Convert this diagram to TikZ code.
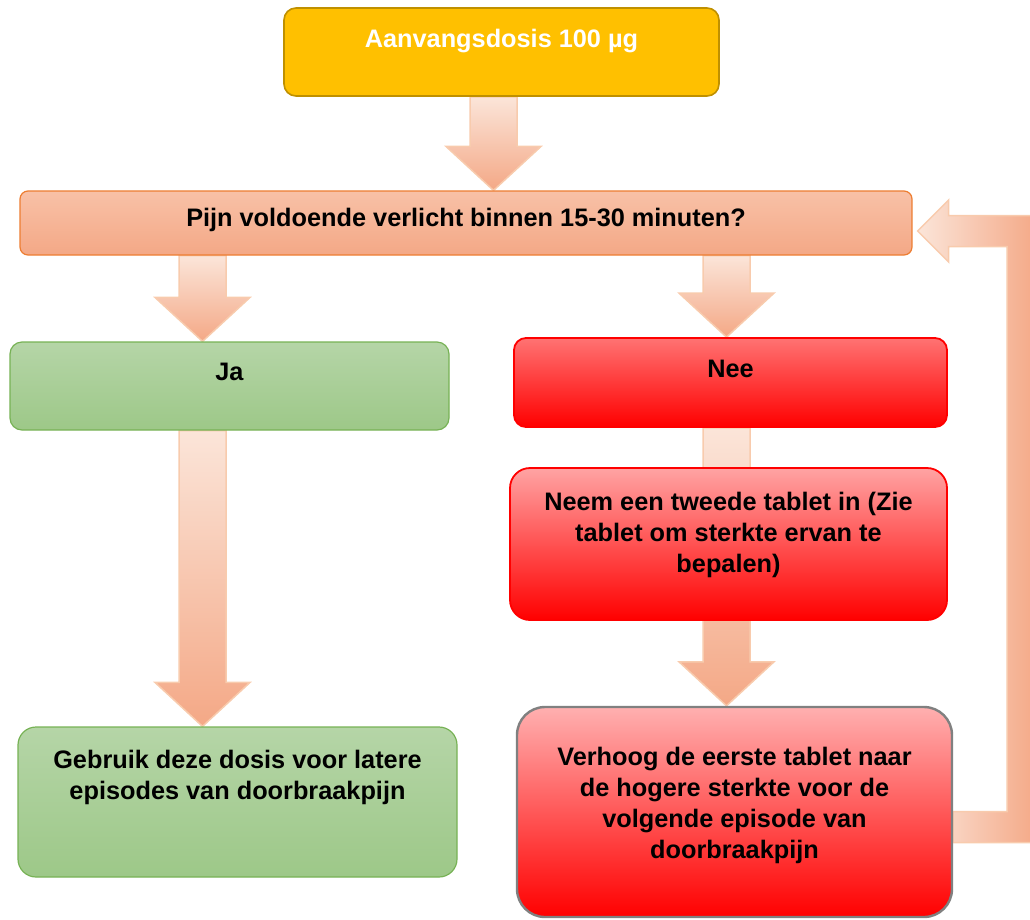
\documentclass[tikz,border=0pt]{standalone}
\usepackage{fontspec}
\setmainfont{Liberation Sans}
\usetikzlibrary{calc,backgrounds}

\definecolor{gold}{HTML}{FFC000}
\definecolor{golddark}{HTML}{BF9000}
\definecolor{salmontop}{HTML}{F8C1A7}
\definecolor{salmonbot}{HTML}{F4A886}
\definecolor{salmonline}{HTML}{ED7D31}
\definecolor{greentop}{HTML}{B5D5A7}
\definecolor{greenbot}{HTML}{9DC888}
\definecolor{greenline}{HTML}{77B255}
\definecolor{redbot}{HTML}{FF0000}
\definecolor{arrowlight}{HTML}{FBE5D9}
\definecolor{arrowdark}{HTML}{F4A886}
\definecolor{arrowline}{HTML}{F8CBAD}

\tikzstyle{box} = [draw, rectangle, line width=1.2pt, rounded corners=12pt]
\tikzstyle{startbox} = [box, fill=gold, draw=golddark, line width=1.6pt,
    minimum width=435pt, minimum height=88pt]
\tikzstyle{askbox} = [box, top color=salmontop, bottom color=salmonbot,
    draw=salmonline, rounded corners=8pt, minimum width=892pt, minimum height=64pt]
\tikzstyle{yesbox} = [box, top color=greentop, bottom color=greenbot,
    draw=greenline, minimum width=439pt]
\tikzstyle{nobox} = [box, bottom color=redbot, draw=redbot, line width=1.8pt]
\tikzstyle{txt} = [align=center, inner sep=0pt,
    font=\bfseries\fontsize{25.3}{31}\selectfont]
\tikzstyle{blockarrow} = [draw=arrowline, line width=1.5pt,
    top color=arrowlight, bottom color=arrowdark]

% block arrow pointing down: #1 top of shaft, #2 tip
\newcommand{\downblock}[2]{%
  \path[blockarrow] ($(#1)+(-23.5,0)$) -- ($(#2)+(-23.5,-44)$)
    -- ($(#2)+(-47.5,-44)$) -- (#2) -- ($(#2)+(47.5,-44)$)
    -- ($(#2)+(23.5,-44)$) -- ($(#1)+(23.5,0)$) -- cycle;}

\begin{document}
\begin{tikzpicture}[x=1pt, y=-1pt]
        \useasboundingbox (0,0) rectangle (1030,919);
        % We start by placing the blocks
        \node [startbox] (start) at (501.5,52) {};
        \node [askbox] (ask) at (466,223) {};
        \node [yesbox, minimum height=88pt] (ja) at (229.5,386) {};
        \node [nobox, top color=red!55!white, minimum width=433pt,
            minimum height=89pt] (nee) at (730.5,382.5) {};
        \node [nobox, top color=red!36!white, rounded corners=20pt,
            minimum width=437pt, minimum height=152pt] (neem) at (728.5,544) {};
        \node [yesbox, rounded corners=18pt, minimum height=150pt]
            (gebruik) at (237.5,802) {};
        \node [nobox, top color=red!31!white, draw=gray, line width=2.4pt,
            rounded corners=28pt, minimum width=435pt, minimum height=210pt]
            (verhoog) at (734.5,812) {};

        % the texts sit a little above the middle
        \node [txt, text=white, yshift=11pt] (startT) at (start)
            {Aanvangsdosis 100 µg};
        \node [txt, yshift=3pt] (askT) at (ask)
            {Pijn voldoende verlicht binnen 15-30 minuten?};
        \node [txt, yshift=14pt] (jaT) at (ja) {Ja};
        \node [txt, yshift=13.5pt] (neeT) at (nee) {Nee};
        \node [txt, yshift=9pt] (neemT) at (neem)
            {Neem een tweede tablet in (Zie\\tablet om sterkte ervan te\\bepalen)};
        \node [txt, yshift=25pt] (gebruikT) at (gebruik)
            {Gebruik deze dosis voor latere\\episodes van doorbraakpijn};
        \node [txt, yshift=7pt] (verhoogT) at (verhoog)
            {Verhoog de eerste tablet naar\\de hogere sterkte voor de\\volgende episode van\\doorbraakpijn};

        % columns of the arrows
        \coordinate (colM) at (493.5,0);
        \coordinate (colL) at (202.5,0);
        \coordinate (colR) at (726.5,0);
        \coordinate (riser) at (1022.5,0);
        \coordinate (tip) at ($(ask.east)+(5,8)$);
        \coordinate (foot) at ($(verhoog.east)+(0,15)$);

        % Once the blocks are placed, the arrows go behind them.
        \begin{pgfonlayer}{background}
        \downblock{start.south -| colM}{ask.north -| colM}
        \downblock{ask.south -| colL}{ja.north -| colL}
        \downblock{ask.south -| colR}{nee.north -| colR}
        \downblock{ja.south -| colL}{gebruik.north -| colL}
        \downblock{nee.south -| colR}{verhoog.north -| colR}
        \path [blockarrow, left color=arrowlight, right color=arrowdark]
            ($(foot)+(0,-15.5)$) -- ($(foot -| riser)+(-15.5,-15.5)$)
            -- ($(tip -| riser)+(-15.5,15.5)$) -- ($(tip)+(31,15.5)$)
            -- ($(tip)+(31,31)$) -- (tip) -- ($(tip)+(31,-31)$)
            -- ($(tip)+(31,-15.5)$) -- ($(tip -| riser)+(15.5,-15.5)$)
            -- ($(foot -| riser)+(15.5,15.5)$) -- ($(foot)+(0,15.5)$) -- cycle;
        \end{pgfonlayer}
\end{tikzpicture}
\end{document}
